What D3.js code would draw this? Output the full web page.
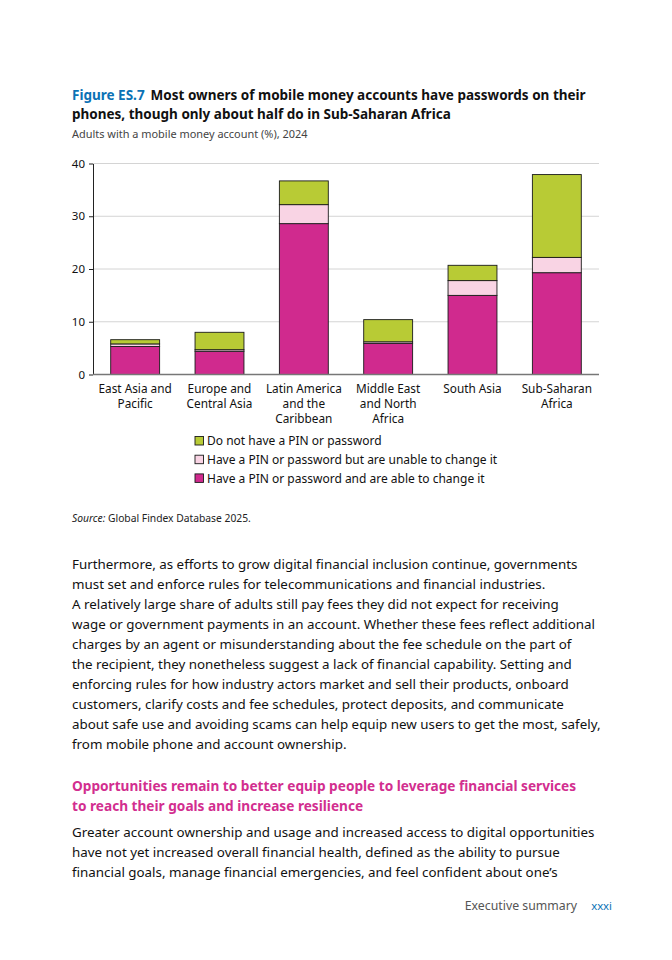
<!DOCTYPE html>
<html>
<head>
<meta charset="utf-8">
<script src="https://cdn.jsdelivr.net/npm/d3@7"></script>
<style>
  html, body { margin: 0; padding: 0; background: #fff; }
  svg { display: block; font-family: "Noto Sans", "Open Sans", sans-serif; }
</style>
</head>
<body>
<div id="chart"></div>
<script>
// Dados
const regions = [
    ['East Asia and', 'Pacific'],
    ['Europe and', 'Central Asia'],
    ['Latin America', 'and the', 'Caribbean'],
    ['Middle East', 'and North', 'Africa'],
    ['South Asia'],
    ['Sub-Saharan', 'Africa']
];
const ableToChange = [5.3, 4.4, 28.6, 5.9, 15.0, 19.3];
const unableToChange = [0.5, 0.3, 3.6, 0.3, 2.8, 2.9];
const noPin = [0.8, 3.3, 4.5, 4.2, 2.9, 15.7];
const yTicks = [0, 10, 20, 30, 40];

const seriesKeys = ['able', 'unable', 'none'];
const seriesLabels = {
    none: 'Do not have a PIN or password',
    unable: 'Have a PIN or password but are unable to change it',
    able: 'Have a PIN or password and are able to change it'
};
const seriesColors = { able: '#D02A8E', unable: '#F9D4E4', none: '#B8CB35' };

const bodyLines = [
    'Furthermore, as efforts to grow digital financial inclusion continue, governments',
    'must set and enforce rules for telecommunications and financial industries.',
    'A relatively large share of adults still pay fees they did not expect for receiving',
    'wage or government payments in an account. Whether these fees reflect additional',
    'charges by an agent or misunderstanding about the fee schedule on the part of',
    'the recipient, they nonetheless suggest a lack of financial capability. Setting and',
    'enforcing rules for how industry actors market and sell their products, onboard',
    'customers, clarify costs and fee schedules, protect deposits, and communicate',
    'about safe use and avoiding scams can help equip new users to get the most, safely,',
    'from mobile phone and account ownership.'
];
const headingLines = [
    'Opportunities remain to better equip people to leverage financial services',
    'to reach their goals and increase resilience'
];
const body2Lines = [
    'Greater account ownership and usage and increased access to digital opportunities',
    'have not yet increased overall financial health, defined as the ability to pursue',
    'financial goals, manage financial emergencies, and feel confident about one\u2019s'
];

// --------------------------------------------------------------------------
const W = 672, H = 960;
const plot = { left: 93, right: 599, top: 163.5, bottom: 374.5 };

const svg = d3.select('#chart').append('svg')
    .attr('width', W).attr('height', H);
svg.append('rect').attr('width', W).attr('height', H).attr('fill', '#fff');

// Título
const title = svg.append('text').attr('x', 72).attr('y', 100)
    .style('font-size', '13.5px').style('font-weight', 700).attr('fill', '#111');
title.append('tspan').attr('fill', '#0B72B5').text('Figure ES.7');
title.append('tspan').attr('dx', 6).text('Most owners of mobile money accounts have passwords on their');
svg.append('text').attr('x', 72).attr('y', 119)
    .style('font-size', '13.5px').style('font-weight', 700).attr('fill', '#111')
    .text('phones, though only about half do in Sub-Saharan Africa');
svg.append('text').attr('x', 72).attr('y', 138)
    .style('font-size', '10.95px').attr('fill', '#444')
    .text('Adults with a mobile money account (%), 2024');

// Escalas
const data = regions.map((r, i) => ({
    idx: i, able: ableToChange[i], unable: unableToChange[i], none: noPin[i]
}));
const x = d3.scaleBand().domain(d3.range(regions.length))
    .range([plot.left, plot.right]).paddingInner(0.42).paddingOuter(0.21);
const y = d3.scaleLinear().domain([0, 40]).range([plot.bottom, plot.top]);

// Grade
svg.append('g').selectAll('line').data(yTicks.filter(d => d > 0)).enter().append('line')
    .attr('x1', plot.left).attr('x2', plot.right)
    .attr('y1', d => y(d)).attr('y2', d => y(d))
    .attr('stroke', '#d4d4d4').attr('stroke-width', 1);

// Barras empilhadas
const stack = d3.stack().keys(seriesKeys)(data);
svg.append('g').selectAll('g').data(stack).enter().append('g')
    .attr('fill', d => seriesColors[d.key])
    .selectAll('rect').data(d => d).enter().append('rect')
    .attr('x', d => x(d.data.idx))
    .attr('width', x.bandwidth())
    .attr('y', d => y(d[1]))
    .attr('height', d => y(d[0]) - y(d[1]))
    .attr('stroke', '#1a1a1a').attr('stroke-width', 0.9);

// Eixo Y
const yAxis = svg.append('g').attr('transform', `translate(${plot.left},0)`)
    .call(d3.axisLeft(y).tickValues(yTicks).tickSize(4).tickSizeOuter(0));
yAxis.select('.domain').attr('stroke', '#222');
yAxis.selectAll('.tick line').attr('stroke', '#222');
yAxis.selectAll('.tick text').attr('fill', '#111')
    .style('font-size', '11.5px').style('font-family', '"Noto Sans", sans-serif')
    .attr('x', -8);

// Linha de base
svg.append('line').attr('x1', plot.left).attr('x2', plot.right)
    .attr('y1', y(0)).attr('y2', y(0)).attr('stroke', '#777').attr('stroke-width', 1.5);

// Rótulos das categorias
const xl = svg.append('g').selectAll('text').data(regions).enter().append('text')
    .attr('text-anchor', 'middle')
    .attr('x', (d, i) => x(i) + x.bandwidth() / 2)
    .attr('y', 392.5)
    .style('font-size', '11.8px').attr('fill', '#111');
xl.selectAll('tspan').data(d => d).enter().append('tspan')
    .attr('x', function () { return d3.select(this.parentNode).attr('x'); })
    .attr('dy', (d, i) => i === 0 ? 0 : 15)
    .text(d => d);

// Legenda
const legendOrder = ['none', 'unable', 'able'];
const lg = svg.append('g').attr('transform', 'translate(195,435.5)');
const li = lg.selectAll('g').data(legendOrder).enter().append('g')
    .attr('transform', (d, i) => `translate(0,${i * 18.7})`);
li.append('rect').attr('width', 8.5).attr('height', 8.5).attr('y', 1)
    .attr('fill', d => seriesColors[d]).attr('stroke', '#1a1a1a').attr('stroke-width', 0.9);
li.append('text').attr('x', 12).attr('y', 9.8)
    .style('font-size', '12px').attr('fill', '#111')
    .text(d => seriesLabels[d]);

// Fonte
const src = svg.append('text').attr('x', 72).attr('y', 522)
    .style('font-size', '10.3px').attr('fill', '#222');
src.append('tspan').style('font-style', 'italic').text('Source:');
src.append('tspan').text(' Global Findex Database 2025.');

// Texto corrido
function writeLines(lines, y0, opts) {
    svg.append('g').selectAll('text').data(lines).enter().append('text')
        .attr('x', 72).attr('y', (d, i) => y0 + i * opts.lh)
        .style('font-size', opts.size + 'px')
        .style('font-weight', opts.weight || 400)
        .attr('fill', opts.color)
        .text(d => d);
}
writeLines(bodyLines, 569, { lh: 20.05, size: 13.36, color: '#111' });
writeLines(headingLines, 791, { lh: 20.3, size: 13.65, weight: 700, color: '#D22E8F' });
writeLines(body2Lines, 837, { lh: 20.1, size: 13.36, color: '#111' });

// Rodapé
svg.append('text').attr('x', 577).attr('y', 910).attr('text-anchor', 'end')
    .style('font-size', '12.3px').attr('fill', '#555').text('Executive summary');
svg.append('text').attr('x', 612).attr('y', 910).attr('text-anchor', 'end')
    .style('font-size', '11.3px').attr('fill', '#0B72B5').text('xxxi');
</script>
</body>
</html>
